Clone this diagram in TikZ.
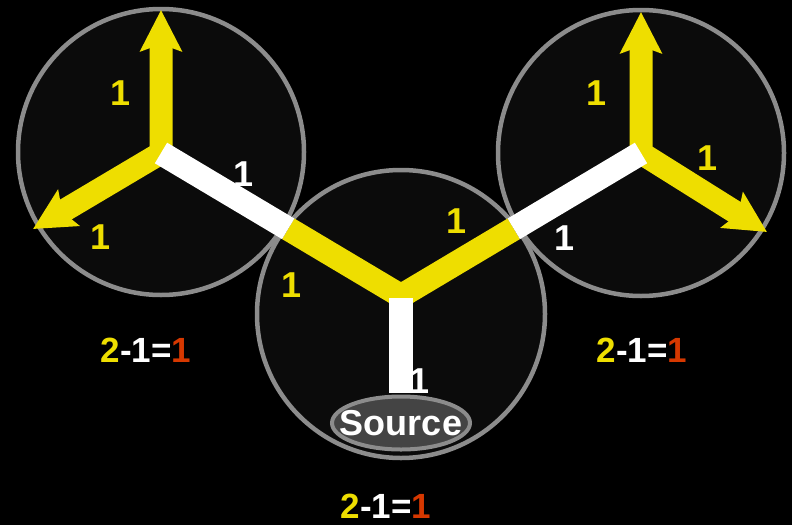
\documentclass[tikz,border=0pt]{standalone}
\usepackage{fontspec}
\setmainfont{Liberation Sans}
\usepackage{xcolor}
\usepackage{tikz}
\usetikzlibrary{arrows.meta,positioning,calc,shapes.geometric}

\definecolor{flowyellow}{RGB}{238,222,0}
\definecolor{ringgray}{RGB}{140,140,140}
\definecolor{cellfill}{RGB}{11,11,11}
\definecolor{srcfill}{RGB}{68,68,68}
\definecolor{cutred}{RGB}{214,56,0}

\tikzset{
    flowtip/.tip={Stealth[length=41pt, width=41pt, inset=7pt]}
}

\begin{document}
\begin{tikzpicture}[
    x=1pt, y=-1pt,
    cell/.style={circle, fill=cellfill, minimum size=288pt, inner sep=0pt},
    ring/.style={draw=ringgray, line width=4.5pt},
    flowarrow/.style={draw=flowyellow, line width=23pt, line join=miter, flowtip-flowtip},
    flowlink/.style={draw=flowyellow, line width=24pt, line join=miter},
    usedlink/.style={draw=white, line width=24pt},
    srcbox/.style={ellipse, fill=srcfill, draw=ringgray, line width=4pt, minimum width=138pt, minimum height=53pt, inner sep=0pt},
    srctext/.style={text=white, font=\fontsize{36}{40}\selectfont\bfseries, inner sep=0pt},
    num/.style={text=flowyellow, font=\fontsize{36}{40}\selectfont\bfseries, inner sep=0pt},
    numw/.style={num, text=white},
    balance/.style={text=white, font=\fontsize{35}{40}\selectfont\bfseries, inner sep=0pt}
]
\fill[black] (0,0) rectangle (792,525);
\useasboundingbox (0,0) rectangle (792,525);

\node[cell] (cellL) at (161,152) {};
\node[cell] (cellM) at (401,314) {};
\node[cell] (cellR) at (641,153) {};
\draw[ring] (cellL.center) circle[radius=143pt];
\draw[ring] (cellM.center) circle[radius=144pt];
\draw[ring] (cellR.center) circle[radius=143pt];

\coordinate (jL) at (161,153);
\coordinate (jM) at (401,296);
\coordinate (jR) at (641,153);
\coordinate (tipLup) at (161,10);
\coordinate (tipLdown) at (33,229);
\coordinate (tipRup) at (641,12);
\coordinate (tipRdown) at (767,232);
\coordinate (cutL) at ($(jL)!0.53!(jM)$);
\coordinate (cutR) at ($(jR)!0.53!(jM)$);

\draw[flowarrow] (tipLup) -- (jL) -- (tipLdown);
\draw[flowarrow] (tipRup) -- (jR) -- (tipRdown);
\draw[flowlink] (cutL) -- (jM) -- (cutR);
\draw[usedlink] (jL) -- (cutL);
\draw[usedlink] (jR) -- (cutR);

\node[srcbox] (src) at (401,423) {};
\draw[usedlink, shorten <=2pt, shorten >=2pt] (jM) -- (src.north);
\node[srctext] (srclabel) at (src.center) {Source};

\node[num] (lblLup) at (121,93) {1};
\node[num] (lblLdown) at (101,237) {1};
\node[numw] (lblLlink) at (244,174) {1};
\node[num] (lblMleft) at (292,285) {1};
\node[num] (lblMright) at (457,221) {1};
\node[numw] (lblstem) at (420,381) {1};
\node[num] (lblRup) at (597,93) {1};
\node[num] (lblRdown) at (708,158) {1};
\node[numw] (lblRlink) at (565,238) {1};

\node[balance] (eqL) at (146,350) {{\color{flowyellow}2}-1={\color{cutred}1}};
\node[balance] (eqR) at (642,350) {{\color{flowyellow}2}-1={\color{cutred}1}};
\node[balance] (eqM) at (386,506) {{\color{flowyellow}2}-1={\color{cutred}1}};
\end{tikzpicture}
\end{document}
